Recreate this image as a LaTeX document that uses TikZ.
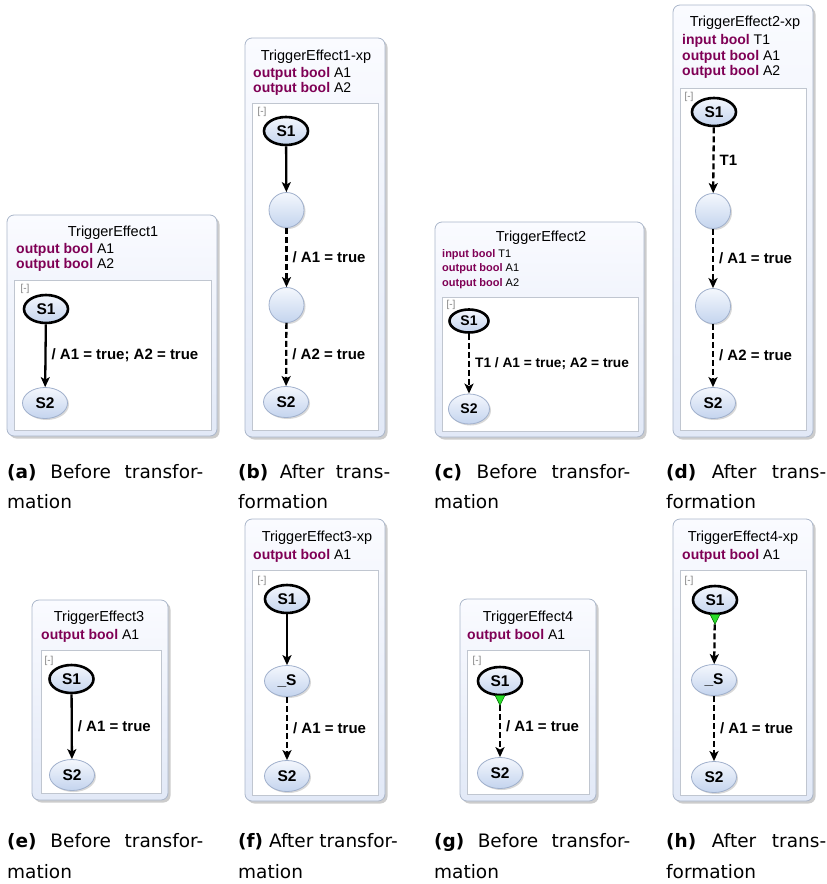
\documentclass[tikz,border=0pt]{standalone}
\usepackage{fontspec}
\setmainfont{Liberation Sans}
\newfontfamily\capfont{DejaVu Sans}
\usetikzlibrary{shapes.geometric,arrows.meta,shadows}

\definecolor{kwpurple}{RGB}{127,0,85}
\definecolor{boxline}{RGB}{170,182,202}
\definecolor{boxtop}{RGB}{250,251,255}
\definecolor{boxbot}{RGB}{226,233,247}
\definecolor{regline}{RGB}{192,198,208}
\definecolor{sttop}{RGB}{244,247,253}
\definecolor{stbot}{RGB}{196,212,238}
\definecolor{stline}{RGB}{160,176,204}
\definecolor{trigreen}{RGB}{40,220,40}

\newcommand{\kw}[1]{\textcolor{kwpurple}{\textbf{#1}}}

\tikzset{
  panel/.style={draw=boxline, line width=0.8pt, rounded corners=7pt,
    top color=boxtop, bottom color=boxbot,
    drop shadow={shadow xshift=2.5pt, shadow yshift=-2.5pt, fill=black!40, opacity=0.5}},
  region/.style={draw=regline, line width=0.8pt, fill=white},
  title/.style={font=\fontsize{14.5}{15}\selectfont, inner sep=0pt},
  decl/.style={font=\fontsize{14}{15}\selectfont, anchor=west, inner sep=0pt,
    text height=10pt, text depth=3pt},
  decls/.style={decl, font=\fontsize{11}{12}\selectfont, text height=8pt, text depth=2pt},
  tog/.style={text=gray, font=\fontsize{10}{10}\selectfont, inner sep=0pt},
  stbase/.style={ellipse, inner sep=0pt, top color=sttop, bottom color=stbot,
    font=\fontsize{15.5}{16}\selectfont\bfseries},
  state/.style={stbase, draw=stline, line width=0.8pt, minimum width=45pt, minimum height=31pt,
    drop shadow={shadow xshift=1.5pt, shadow yshift=-1.5pt, opacity=0.3}},
  initstate/.style={stbase, draw=black, line width=2.6pt, minimum width=44pt, minimum height=28pt},
  pseudo/.style={state, minimum width=35pt, minimum height=35pt},
  small/.style={font=\fontsize{14}{14}\selectfont\bfseries},
  trans/.style={-{Stealth[length=10pt,width=9pt,inset=2.5pt]}, line width=2.3pt},
  dtrans/.style={trans, dash pattern=on 6pt off 3pt},
  tlbl/.style={font=\fontsize{15}{15}\selectfont\bfseries, anchor=west, inner sep=0pt, xshift=5pt},
  trig/.style={fill=trigreen, draw=green!40!black, line width=0.5pt},
  subcap/.style={font=\capfont\fontsize{18.5}{18.5}\selectfont, anchor=west, inner sep=0pt}
}

\begin{document}
\begin{tikzpicture}[x=1pt, y=-1pt]
  \useasboundingbox (0,0) rectangle (827,884);

  % (a) TriggerEffect1
  \draw[panel] (7,215) rectangle (217,436);
  \draw[region] (14,280) rectangle (211,430);
  \node[title] (ta) at (113,233) {TriggerEffect1};
  \node[decl] (da1) at (16,250) {\kw{output bool} A1};
  \node[decl] (da2) at (16,265) {\kw{output bool} A2};
  \node[tog] at (25,289) {[-]};
  \node[initstate] (a1) at (46,309) {S1};
  \node[state] (a2) at (45,403) {S2};
  \draw[trans] (a1) -- node[tlbl] {/ A1 = true; A2 = true} (a2);

  % (b) TriggerEffect1-xp
  \draw[panel] (245,38) rectangle (385,437);
  \draw[region] (252,103) rectangle (378,430);
  \node[title] (tb) at (316,57) {TriggerEffect1-xp};
  \node[decl] (db1) at (253,74) {\kw{output bool} A1};
  \node[decl] (db2) at (253,89) {\kw{output bool} A2};
  \node[tog] at (262,112) {[-]};
  \node[initstate] (b1) at (286,131) {S1};
  \node[pseudo] (b2) at (286.5,210) {};
  \node[pseudo] (b3) at (286.5,305) {};
  \node[state] (b4) at (286,402) {S2};
  \draw[trans] (b1) -- (b2);
  \draw[dtrans] (b2) -- node[tlbl] {/ A1 = true} (b3);
  \draw[dtrans] (b3) -- node[tlbl] {/ A2 = true} (b4);

  % (c) TriggerEffect2
  \draw[panel] (435,222) rectangle (644,437);
  \draw[region] (442,297) rectangle (638,431);
  \node[title] (tc) at (541,238) {TriggerEffect2};
  \node[decls] (dc1) at (442,254) {\kw{input bool} T1};
  \node[decls] (dc2) at (442,268.5) {\kw{output bool} A1};
  \node[decls] (dc3) at (442,283) {\kw{output bool} A2};
  \node[tog] at (451,305) {[-]};
  \node[initstate, small, minimum width=39pt, minimum height=23pt] (c1) at (469,321) {S1};
  \node[state, small, minimum width=41pt, minimum height=30pt] (c2) at (469,409) {S2};
  \draw[dtrans] (c1) -- node[tlbl, font=\fontsize{13.7}{14}\selectfont\bfseries] {T1 / A1 = true; A2 = true} (c2);

  % (d) TriggerEffect2-xp
  \draw[panel] (673,5) rectangle (813,437);
  \draw[region] (680,88) rectangle (806,430);
  \node[title] (td) at (745,23) {TriggerEffect2-xp};
  \node[decl] (dd1) at (682,41) {\kw{input bool} T1};
  \node[decl] (dd2) at (682,57) {\kw{output bool} A1};
  \node[decl] (dd3) at (682,72) {\kw{output bool} A2};
  \node[tog] at (689,97) {[-]};
  \node[initstate] (d1) at (714,112) {S1};
  \node[pseudo] (d2) at (713,211) {};
  \node[pseudo] (d3) at (713,306) {};
  \node[state] (d4) at (713,403) {S2};
  \draw[dtrans] (d1) -- node[tlbl] {T1} (d2);
  \draw[dtrans] (d2) -- node[tlbl] {/ A1 = true} (d3);
  \draw[dtrans] (d3) -- node[tlbl] {/ A2 = true} (d4);

  % (e) TriggerEffect3
  \draw[panel] (32,600) rectangle (168,800);
  \draw[region] (41,650) rectangle (161,793);
  \node[title] (te) at (99,618) {TriggerEffect3};
  \node[decl] (de1) at (41,636) {\kw{output bool} A1};
  \node[tog] at (49,661) {[-]};
  \node[initstate] (e1) at (71.5,679) {S1};
  \node[state] (e2) at (72,775) {S2};
  \draw[trans] (e1) -- node[tlbl] {/ A1 = true} (e2);

  % (f) TriggerEffect3-xp
  \draw[panel] (245,519) rectangle (385,801);
  \draw[region] (252,570) rectangle (378,795);
  \node[title] (tf) at (317,538) {TriggerEffect3-xp};
  \node[decl] (df1) at (253,556) {\kw{output bool} A1};
  \node[tog] at (262,581) {[-]};
  \node[initstate] (f1) at (287,599) {S1};
  \node[state] (f2) at (287,681) {\_S};
  \node[state] (f3) at (287,776) {S2};
  \draw[trans] (f1) -- (f2);
  \draw[dtrans] (f2) -- node[tlbl] {/ A1 = true} (f3);

  % (g) TriggerEffect4
  \draw[panel] (460,599) rectangle (596,801);
  \draw[region] (467,650) rectangle (589,794);
  \node[title] (tg) at (528,618) {TriggerEffect4};
  \node[decl] (dg1) at (467,636) {\kw{output bool} A1};
  \node[tog] at (477,661) {[-]};
  \node[initstate] (g1) at (500,681) {S1};
  \node[state] (g2) at (500,773) {S2};
  \draw[dtrans] (g1) -- node[tlbl] {/ A1 = true} (g2);
  \filldraw[trig] (g1.south) ++(-5,-1) -- ++(10,0) -- ++(-5,10) -- cycle;

  % (h) TriggerEffect4-xp
  \draw[panel] (673,519) rectangle (813,801);
  \draw[region] (680,570) rectangle (806,795);
  \node[title] (th) at (743,538) {TriggerEffect4-xp};
  \node[decl] (dh1) at (682,556) {\kw{output bool} A1};
  \node[tog] at (689,581) {[-]};
  \node[initstate] (h1) at (715,600) {S1};
  \node[state] (h2) at (714,680) {\_S};
  \node[state] (h3) at (714,777) {S2};
  \draw[dtrans] (h1) -- (h2);
  \draw[dtrans] (h2) -- node[tlbl] {/ A1 = true} (h3);
  \filldraw[trig] (h1.south) ++(-5,-1) -- ++(10,0) -- ++(-5,10) -- cycle;

  % captions
  \node[subcap] (ca1) at (7,473) {\makebox[196pt][s]{\textbf{(a)} Before transfor-}};
  \node[subcap] (ca2) at (7,502) {mation};
  \node[subcap] (cb1) at (238,473) {\makebox[152pt][s]{\textbf{(b)} After trans-}};
  \node[subcap] (cb2) at (238,502) {formation};
  \node[subcap] (cc1) at (434,473) {\makebox[196pt][s]{\textbf{(c)} Before transfor-}};
  \node[subcap] (cc2) at (434,502) {mation};
  \node[subcap] (cd1) at (666,473) {\makebox[160pt][s]{\textbf{(d)} After trans-}};
  \node[subcap] (cd2) at (666,502) {formation};
  \node[subcap] (ce1) at (7,842) {\makebox[196pt][s]{\textbf{(e)} Before transfor-}};
  \node[subcap] (ce2) at (7,872) {mation};
  \node[subcap] (cf1) at (238,842) {\textbf{(f)} After transfor-};
  \node[subcap] (cf2) at (238,872) {mation};
  \node[subcap] (cg1) at (434,842) {\makebox[196pt][s]{\textbf{(g)} Before transfor-}};
  \node[subcap] (cg2) at (434,872) {mation};
  \node[subcap] (ch1) at (666,842) {\makebox[160pt][s]{\textbf{(h)} After trans-}};
  \node[subcap] (ch2) at (666,872) {formation};
\end{tikzpicture}
\end{document}
